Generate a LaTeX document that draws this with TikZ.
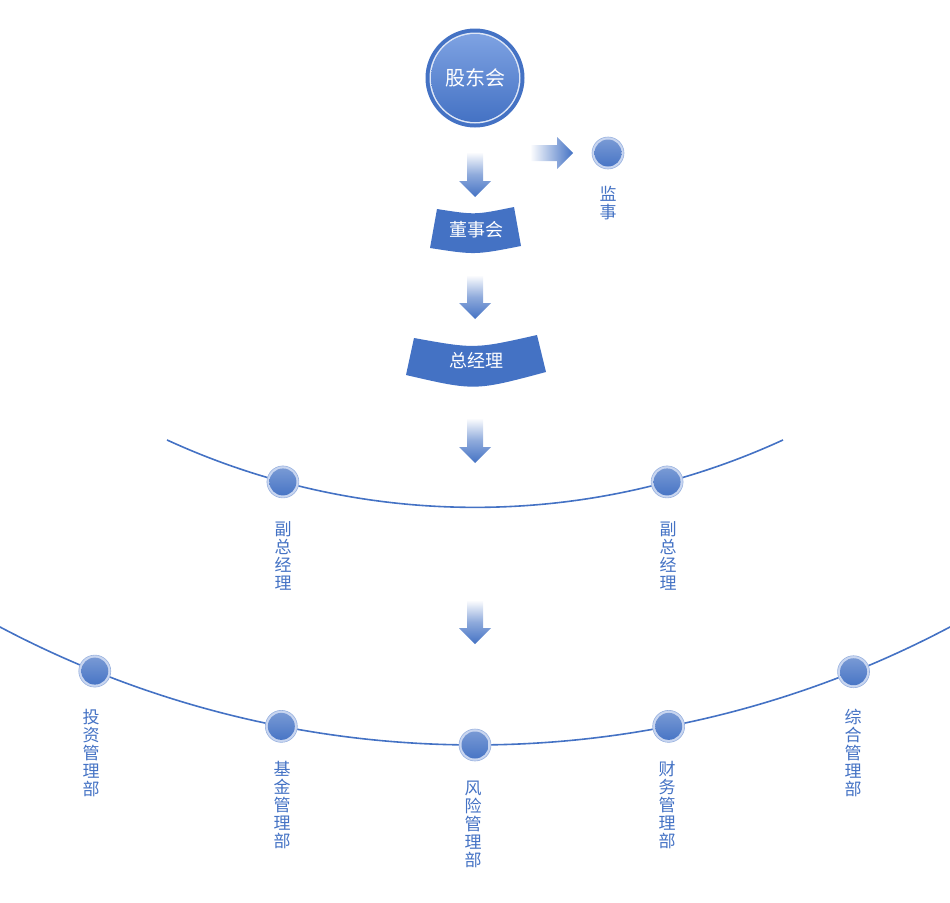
\documentclass[tikz,border=0pt]{standalone}
\usepackage{fontspec}
\setmainfont{Noto Sans CJK SC}
\definecolor{orgblue}{HTML}{4472C4}
\definecolor{orglight}{HTML}{7EA2E2}
\definecolor{ringlight}{HTML}{C9D6F0}
\tikzset{
  dot/.style={circle, minimum size=32pt, inner sep=0pt, fill=ringlight, draw=orgblue!55, line width=0.6pt,
    path picture={\shade[top color=orgblue!70!white, bottom color=orgblue] (path picture bounding box.center) circle (13.5);}},
  bigdisc/.style={circle, minimum size=99pt, inner sep=0pt, fill=orgblue, text=white,
    font=\fontsize{20}{22}\selectfont,
    path picture={\fill[ringlight!60!white] (path picture bounding box.center) circle (45.5);
      \shade[top color=orglight, bottom color=orgblue] (path picture bounding box.center) circle (44);}},
  bandtext/.style={text=white, font=\fontsize{18}{20}\selectfont},
  vlabel/.style={text=orgblue, font=\fontsize{17}{18}\selectfont, align=center, inner sep=0pt, anchor=north},
  orgline/.style={orgblue, line width=1.6pt}
}
\begin{document}
\begin{tikzpicture}[x=1pt, y=-1pt]
  \useasboundingbox (0,0) rectangle (950,902);

  % Shareholders and supervisor
  \node[bigdisc] (gudong) at (475,78) {股东会};
  \shade[left color=white, right color=orgblue] (530,145) -- (557,145) -- (557,137) -- (573,153)
    -- (557,169) -- (557,161) -- (530,161) -- cycle;
  \node[dot] (jianshi) at (608,153) {};
  \node[vlabel] at (608,186) {监\\事};

  % Down arrows between the levels
  \foreach \t/\h in {152/181, 275/303, 418/447, 600/628}
    \shade[top color=white, bottom color=orgblue, middle color=orgblue!60] (467,\t) -- (483,\t) -- (483,\h)
      -- (491,\h) -- (475,\h+16) -- (459,\h) -- (467,\h) -- cycle;

  % Board and general manager
  \fill[orgblue] (437,209) .. controls (475,215) .. (514,207) -- (521,246)
    .. controls (475,255) .. (430,248) -- cycle;
  \node[bandtext] (dongshi) at (476,230) {董事会};
  \fill[orgblue] (414,338) .. controls (475,349) .. (537,335) -- (546,372)
    .. controls (475,391) .. (406,375) -- cycle;
  \node[bandtext] (zongjingli) at (476,361) {总经理};

  % Vice general managers
  \coordinate (c1) at (475,-230);
  \draw[orgline] (c1) ++(114.69:737.4) arc[start angle=114.69, end angle=65.31, radius=737.4];
  \foreach \a/\n in {105.1/fuzongA, 74.9/fuzongB}
    \path (c1) ++(\a:737.4) node[dot] (\n) {};
  \node[vlabel] at (283,521) {副\\总\\经\\理};
  \node[vlabel] at (668,521) {副\\总\\经\\理};

  % Departments
  \coordinate (c2) at (475,-270);
  \draw[orgline] (c2) ++(117.91:1015) arc[start angle=117.91, end angle=62.09, radius=1015];
  \foreach \a/\n in {112.0/touzi, 101.0/jijin, 90/fengxian, 79.0/caiwu, 68.1/zonghe}
    \path (c2) ++(\a:1015) node[dot] (\n) {};
  \node[vlabel] at (91,709) {投\\资\\管\\理\\部};
  \node[vlabel] at (282,761) {基\\金\\管\\理\\部};
  \node[vlabel] at (473,781) {风\\险\\管\\理\\部};
  \node[vlabel] at (667,761) {财\\务\\管\\理\\部};
  \node[vlabel] at (853,709) {综\\合\\管\\理\\部};
\end{tikzpicture}
\end{document}
